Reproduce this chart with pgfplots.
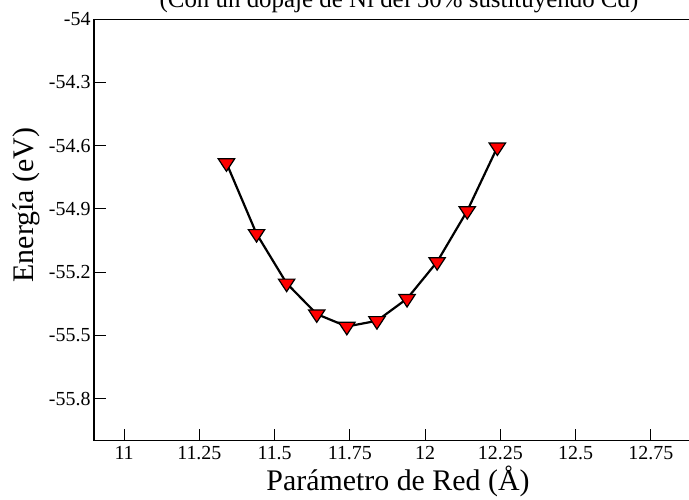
\documentclass[border=0pt]{standalone}
\usepackage{pgfplots}
\pgfplotsset{compat=1.18}
\usepackage{fontspec}
\setmainfont{Liberation Serif}
\begin{document}
\begin{tikzpicture}
\begin{axis}[
  scale only axis,
  width=602bp, height=421.4bp,
  xmin=10.9, xmax=12.9,
  ymin=-56, ymax=-54,
  xtick={11,11.25,11.5,11.75,12,12.25,12.5,12.75},
  ytick={-55.8,-55.5,-55.2,-54.9,-54.6,-54.3,-54},
  xtick pos=bottom, ytick pos=left,
  tick align=inside,
  major tick length=12bp,
  minor tick num=0,
  axis line style={line width=1.2bp, black},
  every tick/.style={line width=1bp, black},
  /pgf/number format/assume math mode=true,
  /pgf/number format/fixed,
  xticklabel={\pgfmathprintnumber[assume math mode=true]{\tick}},
  yticklabel={\pgfmathprintnumber[assume math mode=true]{\tick}},
  tick label style={font=\rmfamily\fontsize{20}{24}\selectfont},
  xticklabel style={yshift=-2bp},
  title={(Con un dopaje de Ni del 50\% sustituyendo Cd)},
  title style={font=\fontsize{25}{30}\selectfont, at={(rel axis cs:0.5066,1.0138)}, anchor=base},
  xlabel={Parámetro de Red (Å)},
  ylabel={Energía (eV)},
  label style={font=\fontsize{30}{36}\selectfont},
  xlabel style={at={(rel axis cs:0.505,-0.117)}, anchor=base},
  ylabel style={at={(rel axis cs:-0.1005,0.559)}, anchor=base, rotate=0},
]
\addplot[black, line width=2.2bp, mark=triangle*, mark size=9.5pt,
  mark options={rotate=180, yscale=0.88, fill=red, draw=black, line width=1.2bp, solid}]
  coordinates {
  (11.34,-54.682)
  (11.44,-55.018)
  (11.54,-55.253)
  (11.64,-55.399)
  (11.74,-55.458)
  (11.84,-55.431)
  (11.94,-55.326)
  (12.04,-55.151)
  (12.14,-54.909)
  (12.24,-54.607)
  };
\end{axis}
\pgfresetboundingbox
\useasboundingbox (-94bp,-59.3bp) rectangle (595bp,440.7bp);
\end{tikzpicture}
\end{document}
